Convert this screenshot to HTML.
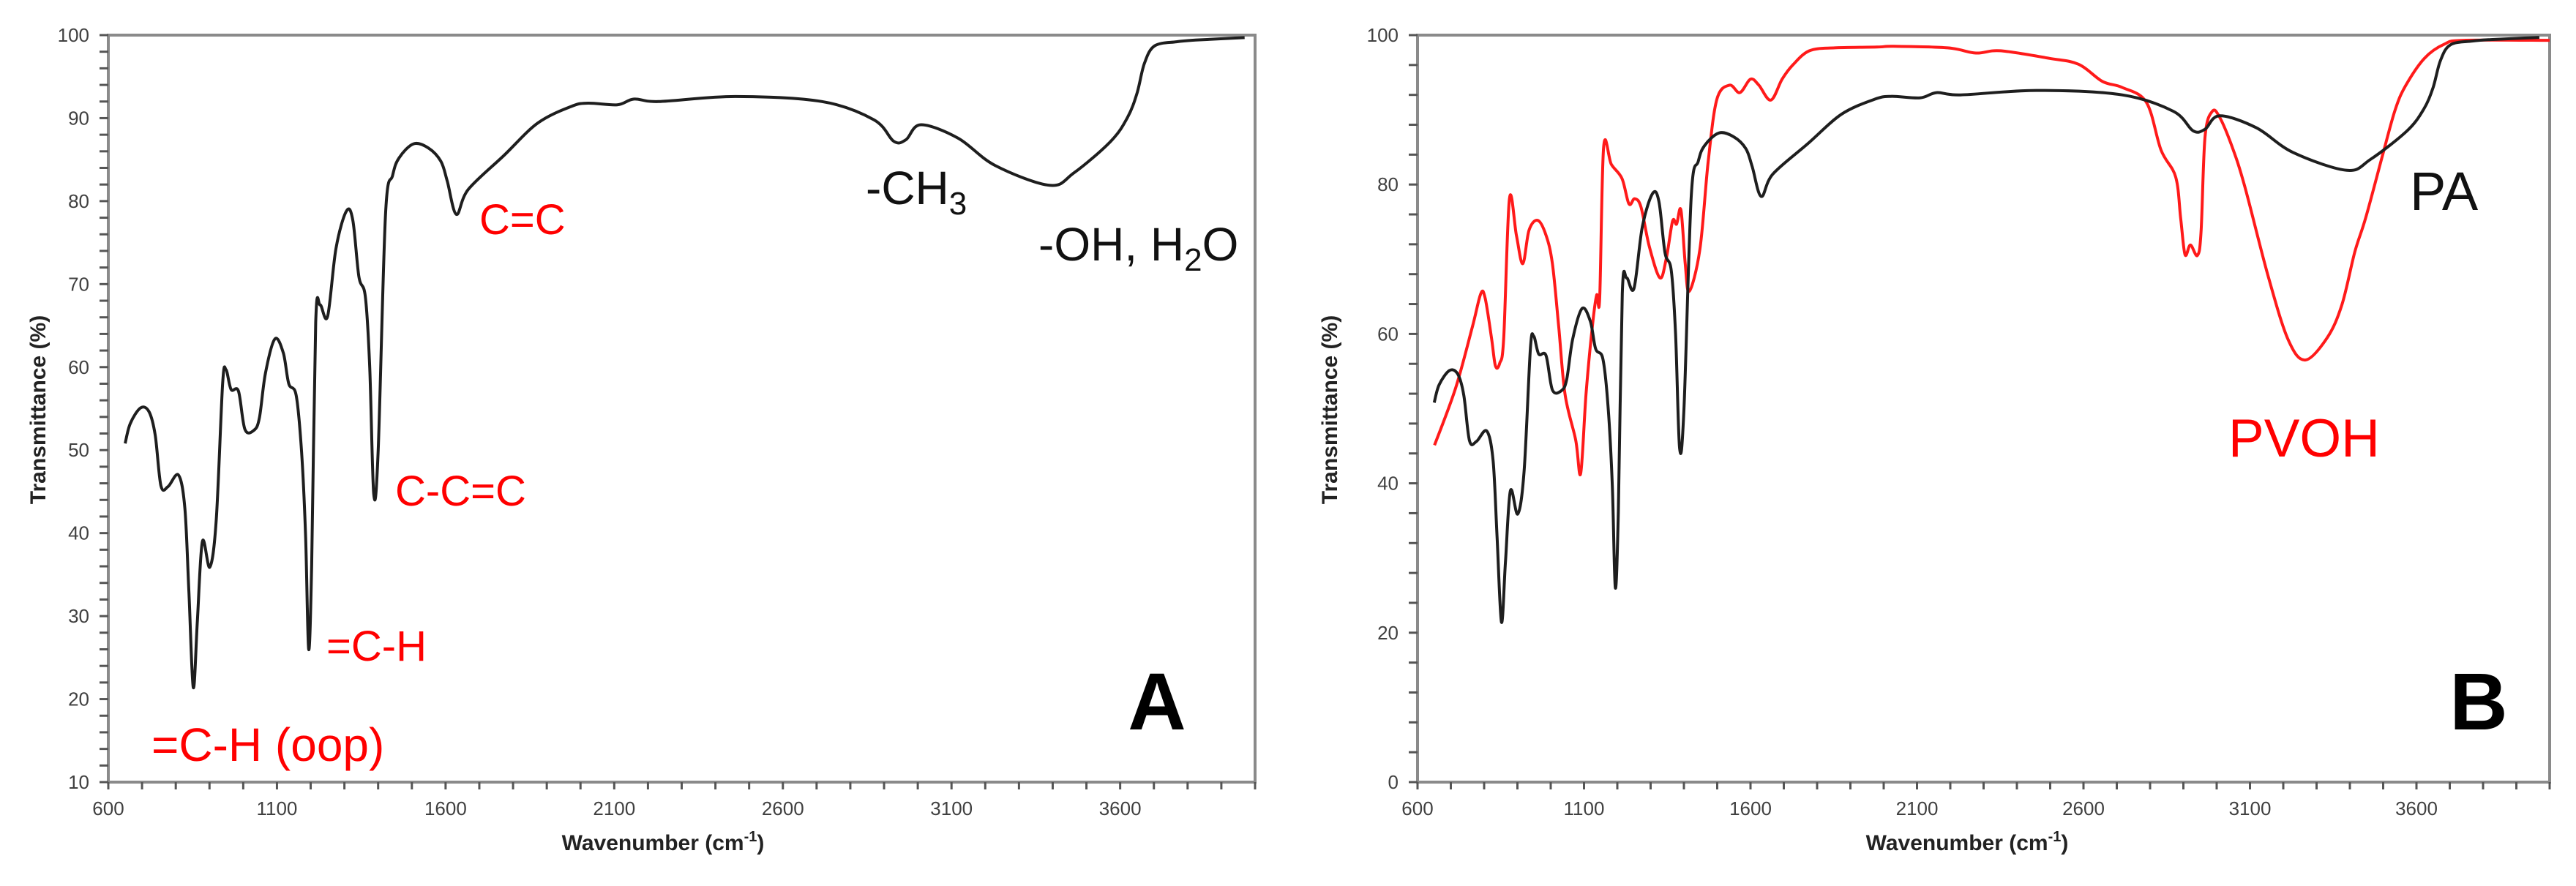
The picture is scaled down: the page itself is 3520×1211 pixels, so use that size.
<!DOCTYPE html>
<html><head><meta charset="utf-8"><title>FTIR spectra</title>
<style>
html,body{margin:0;padding:0;background:#fff;}
svg{display:block;font-family:"Liberation Sans",sans-serif;}
.tick{font-size:26px;fill:#404040;}
.ttl{font-size:30px;font-weight:bold;fill:#222;}
</style></head>
<body>
<svg id="fig" width="3520" height="1211" viewBox="0 0 3520 1211" xmlns="http://www.w3.org/2000/svg">
<rect width="3520" height="1211" fill="#fff"/>
<g id="chartA"></g>
<g id="chartB"></g>
</svg>
<script>
// PA spectrum (wavenumber, transmittance %)
const paWave = [650,665,696,721,739,756,777,808,827,839,852,864,879,901,920,939,949,964,986,1005,1032,1048,1066,1094,1119,1135,1157,1173,1185,1194,1203,1215,1228,1250,1275,1306,1325,1343,1362,1375,1387,1400,1422,1443,1462,1505,1549,1586,1605,1632,1667,1773,1873,1972,2022,2109,2159,2231,2459,2716,2870,2929,2965,3009,3119,3229,3391,3463,3572,3622,3650,3672,3702,3767,3823,3969];
const paT = [50.8,53.2,55.1,54.6,51.8,45.7,45.6,47,43,32.8,21.4,29.4,39,35.9,41.6,58,59.7,57.3,57.1,52.5,52.4,53.9,59.3,63.4,61.7,58,56.6,49.8,39.6,26,36.2,65.4,67.5,66.1,74.3,78.8,77.7,70.9,68.5,60,44.7,49.8,78.4,83.1,85.2,86.9,86.4,84.8,82.4,78.4,81.4,85.5,89.4,91.4,91.8,91.6,92.3,92,92.6,92,89.8,87.2,87.4,89.2,87.6,84.3,81.9,83.4,87.2,90.1,93,96.6,98.7,99.2,99.4,99.7];
// PVOH spectrum
const pvWave = [651,714,765,790,803,822,834,847,859,876,897,916,935,961,986,1005,1024,1043,1075,1090,1106,1125,1138,1147,1159,1182,1214,1235,1252,1271,1296,1328,1347,1366,1378,1391,1404,1416,1448,1473,1499,1537,1568,1600,1625,1661,1695,1727,1777,1853,1980,2030,2192,2277,2350,2497,2585,2657,2716,2789,2833,2877,2892,2905,2921,2942,2953,2965,2987,3009,3046,3084,3156,3215,3266,3332,3376,3415,3448,3501,3536,3567,3624,3684,3743,4000];
const pvT = [45.1,52.7,61,65.4,64.8,59.5,55.7,56.1,59.5,78.1,73.2,69.4,73.9,75.2,73.2,69.4,61,51.9,45.8,41.3,51.9,61,65.2,64.8,85,82.7,80.8,77.4,78.1,77,71.7,67.5,70.1,75.1,74.7,76.6,69.4,65.7,71.3,83.1,91.4,93.3,92.3,94.1,93.3,91.3,94.1,96,97.9,98.3,98.4,98.5,98.3,97.6,97.9,96.9,96.1,93.8,93,91,84.6,81,75.4,70.6,71.9,70.5,73.6,86.4,89.8,89,85.1,79.8,67.5,59.2,56.5,59.5,63.9,71,75.6,84.4,90,93.2,96.9,98.8,99.3,99.3];
const xTicks = [600,1100,1600,2100,2600,3100,3600];
const yTicksA = [10,20,30,40,50,60,70,80,90,100];
const yTicksB = [0,20,40,60,80,100];

const NS="http://www.w3.org/2000/svg";
function mk(tag,attrs,parent){const e=document.createElementNS(NS,tag);for(const k in attrs)e.setAttribute(k,attrs[k]);parent.appendChild(e);return e;}
function smooth(pts){let d="M"+pts[0][0].toFixed(1)+","+pts[0][1].toFixed(1);
 for(let i=0;i<pts.length-1;i++){const p0=pts[Math.max(0,i-1)],p1=pts[i],p2=pts[i+1],p3=pts[Math.min(pts.length-1,i+2)];
  const c1x=p1[0]+(p2[0]-p0[0])/6,c1y=p1[1]+(p2[1]-p0[1])/6,c2x=p2[0]-(p3[0]-p1[0])/6,c2y=p2[1]-(p3[1]-p1[1])/6;
  d+=" C"+c1x.toFixed(1)+","+c1y.toFixed(1)+" "+c2x.toFixed(1)+","+c2y.toFixed(1)+" "+p2[0].toFixed(1)+","+p2[1].toFixed(1);}
 return d;}

function chart(g,L,R,T,B,ymin,ymax,yTicks,yMinorStep,series){
 const sx=w=>L+(w-600)/(4000-600)*(R-L);
 const sy=v=>B-(v-ymin)/(ymax-ymin)*(B-T);
 // frame
 const fr=mk("rect",{x:L,y:T,width:R-L,height:B-T,fill:"none",stroke:"#8a8a8a","stroke-width":4},g);
 
 
 // y minor ticks
 for(let v=ymin;v<=ymax+0.001;v+=yMinorStep){
  const t=mk("line",{x1:L-12,x2:L,y1:sy(v),y2:sy(v),stroke:"#555","stroke-width":3},g);
  
  
 }
 yTicks.forEach(v=>{
  const t=mk("text",{x:L-26,y:sy(v)+9,"text-anchor":"end",class:"tick"},g);t.textContent=v;
  
  
 });
 for(let w=600;w<=4000;w+=100){
  const t=mk("line",{x1:sx(w),x2:sx(w),y1:B,y2:B+10,stroke:"#555","stroke-width":3},g);
  
  
 }
 xTicks.forEach(w=>{
  const t=mk("text",{x:sx(w),y:B+45,"text-anchor":"middle",class:"tick"},g);t.textContent=w;
  
  
 });
 series.forEach(s=>{
  const pts=s.w.map((w,i)=>[sx(w),sy(s.t[i])]);
  const p=mk("path",{d:smooth(pts),fill:"none",stroke:s.c,"stroke-width":4,"stroke-linejoin":"round"},g);
  
  
 });
}
const gA=document.getElementById("chartA"), gB=document.getElementById("chartB");
chart(gA,148,1715,48,1069,10,100,yTicksA,2,[{w:paWave,t:paT,c:"#1e1e1e",n:"pa-spectrum-line"}]);
chart(gB,1937,3484,48,1069,0,100,yTicksB,4,[{w:pvWave,t:pvT,c:"#ff1a1a",n:"pvoh-spectrum-line"},{w:paWave,t:paT,c:"#1e1e1e",n:"pa-spectrum-line"}]);

function txt(g,x,y,s,attrs,name,html){const t=mk("text",Object.assign({x:x,y:y},attrs),g);if(html)t.innerHTML=s;else t.textContent=s;
 
 
 return t;}
// axis titles
txt(gA,0,0,"Transmittance (%)",{class:"ttl","text-anchor":"middle",transform:"translate(62,560) rotate(-90)"},"y-axis-title");
txt(gB,0,0,"Transmittance (%)",{class:"ttl","text-anchor":"middle",transform:"translate(1827,560) rotate(-90)"},"y-axis-title");
txt(gA,906,1162,'Wavenumber (cm<tspan dy="-12" font-size="20">-1</tspan><tspan dy="12">)</tspan>',{class:"ttl","text-anchor":"middle"},"x-axis-title",true);
txt(gB,2688,1162,'Wavenumber (cm<tspan dy="-12" font-size="20">-1</tspan><tspan dy="12">)</tspan>',{class:"ttl","text-anchor":"middle"},"x-axis-title",true);
// annotations A
const red={fill:"#ff0000","font-size":"58px"};
txt(gA,655,320,"C=C",red,"annotation-c-double-c");
txt(gA,540,691,"C-C=C",red,"annotation-c-c-double-c");
txt(gA,446,903,"=C-H",red,"annotation-c-h");
txt(gA,207,1040,"=C-H (oop)",Object.assign({},red,{"font-size":"64px"}),"annotation-c-h-oop");
txt(gA,1183,279,'-CH<tspan dy="14" font-size="44">3</tspan>',{fill:"#111","font-size":"64px"},"annotation-ch3",true);
txt(gA,1419,356,'-OH, H<tspan dy="14" font-size="44">2</tspan><tspan dy="-14">O</tspan>',{fill:"#111","font-size":"64px"},"annotation-oh-h2o",true);
txt(gA,1581,997,"A",{"font-size":"110px","font-weight":"bold",fill:"#000","text-anchor":"middle"},"panel-label-a");
// annotations B
txt(gB,3293,287,"PA",{"font-size":"74px",fill:"#111"},"label-pa");
txt(gB,3045,624,"PVOH",{"font-size":"73px",fill:"#ff0000"},"label-pvoh");
txt(gB,3387,997,"B",{"font-size":"110px","font-weight":"bold",fill:"#000","text-anchor":"middle"},"panel-label-b");
</script>
</body></html>
